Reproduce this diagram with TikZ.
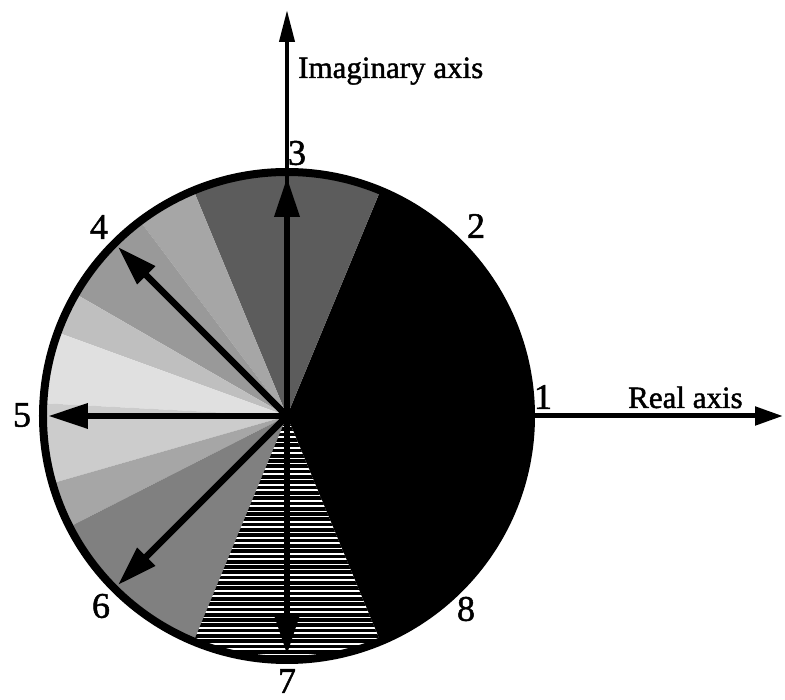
\documentclass[tikz,border=0pt]{standalone}
\usepackage{fontspec}
\setmainfont[FakeBold=1.4]{Liberation Serif}
\usetikzlibrary{arrows.meta}
\begin{document}
\begin{tikzpicture}[x=1pt,y=1pt,
  rim/.style={line width=8pt},
  vec/.style={line width=6.5pt,-{Triangle[length=40pt,width=24pt]}},
  imaxis/.style={line width=4pt,-{Triangle[length=32pt,width=15pt]}},
  reaxis/.style={line width=5pt,-{Triangle[length=28pt,width=18pt]}},
  digit/.style={font=\fontsize{36}{40}\selectfont,inner sep=0pt},
  axislabel/.style={font=\fontsize{31}{36}\selectfont,inner sep=0pt,anchor=base west}]
\useasboundingbox (-287,-284) rectangle (498,416);
\def\R{244}
\coordinate (O) at (0,0);
% shaded wedges of the phase wheel
\foreach \a/\b/\g in {-67.5/67.5/100, 67.5/112.5/64, 112.5/127/35, 127/150/40,
    150/160/25, 160/177/12, 177/196/20, 196/207/35, 207/247.5/50}
  \fill[black!\g] (O) -- (\a:\R) arc[start angle=\a,end angle=\b,radius=\R] -- cycle;
% striped wedge around the negative imaginary direction
\begin{scope}
  \clip (O) -- (247.5:\R) arc[start angle=247.5,end angle=292.5,radius=\R] -- cycle;
  \fill[black] (-120,-250) rectangle (120,0);
  \foreach \k in {1,...,47}
    \draw[white,line width=1.6pt] (-120,-\k*5.3) -- (120,-\k*5.3);
\end{scope}
% axes
\coordinate (imtip) at (0,406);
\coordinate (retip) at (496,0);
\draw[imaxis] (O) -- (imtip);
\draw[reaxis] (O) -- (retip);
% rim
\draw[rim] (O) circle[radius=\R];
% unit vectors
\foreach \ang/\n in {90/v3,135/v4,180/v5,225/v6,270/v7}
  \coordinate (\n) at (\ang:239);
\foreach \n in {v3,v4,v5,v6,v7}
  \draw[vec] (O) -- (\n);
% point labels
\node[digit] (n1) at (256,19) {1};
\node[digit] (n2) at (189,190) {2};
\node[digit] (n3) at (10,263) {3};
\node[digit] (n4) at (-188,189) {4};
\node[digit] (n5) at (-265,1) {5};
\node[digit] (n6) at (-186,-190) {6};
\node[digit] (n7) at (0,-265) {7};
\node[digit] (n8) at (179,-193) {8};
% axis labels
\node[axislabel] (imlabel) at (11,338) {Imaginary axis};
\node[axislabel] (relabel) at (341,8) {Real axis};
\end{tikzpicture}
\end{document}
